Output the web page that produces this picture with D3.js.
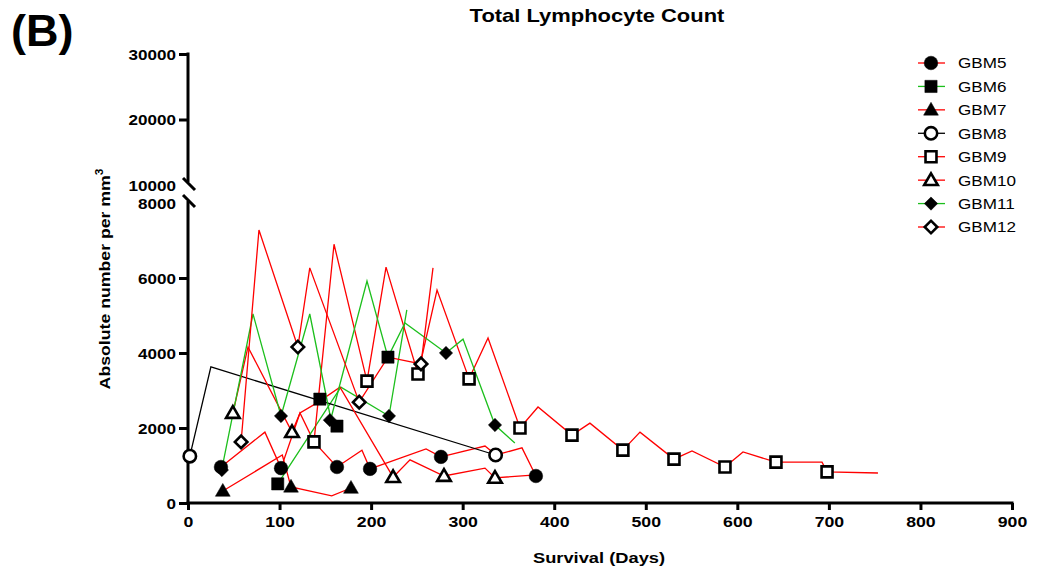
<!DOCTYPE html>
<html><head><meta charset="utf-8">
<script src="https://cdn.jsdelivr.net/npm/d3@7"></script>
<style>body{margin:0;background:#fff}svg{display:block}text{font-family:"Liberation Sans",Arial,sans-serif}</style>
</head><body><svg id="c" width="1043" height="573"></svg>
<script>
// ---- data (day, absolute count per mm3) ----
const seriesNames = ["GBM5","GBM6","GBM7","GBM8","GBM9","GBM10","GBM11","GBM12"];
const lineColors = ["#ff0000","#1cbf1c","#ff0000","#000000","#ff0000","#ff0000","#1cbf1c","#ff0000"];
const symbolKinds = ["circleF","squareF","triangleF","circleO","squareO","triangleO","diamondF","diamondO"];

const gbm5Line = [[36,960],[84,1890],[101.6,930],[122.3,2400],[137.6,1630],[162.7,960],[190,1410],[198.8,910],[260,1440],[276.3,1230],[324.4,1520],[336.4,1280],[364.8,1470],[380,720]];
const gbm5Pts  = [[36,960],[101.6,930],[162.7,960],[198.8,910],[276.3,1230],[380,720]];
const gbm6Line = [[98,510],[167,3090],[219.5,2320],[239,5150]];
const gbm6Pts  = [[98,510],[144,2770],[162.7,2050],[218.4,3890]];
const gbm7Line = [[38,320],[103,1280],[112.5,430],[157,190],[178,400]];
const gbm7Pts  = [[38,320],[112.5,430],[178,400]];
const gbm8Line = [[2,1250],[25,3630],[336,1280]];
const gbm8Pts  = [[2,1250],[336,1280]];
const gbm9Line = [[137.6,1630],[159.5,6900],[195.5,3250],[216.3,6290],[251.2,3440],[272,5680],[307,3310],[327.7,4400],[362.6,2000],[382.3,2560],[419.4,1810],[439,2130],[475,1410],[493.7,1890],[530.8,1170],[550.5,1390],[586.5,960],[606.2,1360],[642.2,1090],[692.5,1090],[698,830],[753.6,800]];
const gbm9Pts  = [[137.6,1630],[195.5,3250],[251.2,3440],[307,3310],[362.6,2000],[419.4,1810],[475,1410],[530.8,1170],[586.5,960],[642.2,1090],[698,830]];
const gbm10Line = [[49,2400],[65.5,4160],[113.6,1890],[122.3,2400],[141,2670],[166,3090],[224,690],[242.5,1150],[279.6,720],[324.4,930],[335.3,670],[380,750]];
const gbm10Pts  = [[49,2400],[113.6,1890],[224,690],[279.6,720],[335.3,670]];
const gbm11Line = [[37,910],[71,5040],[101.6,2320],[133,5040],[156,2240],[195.5,5920],[218.4,3890],[237,4800],[281.8,4000],[300.4,4370],[335.3,2080],[357,1600]];
const gbm11Pts  = [[37,880],[101.6,2320],[155,2210],[219.5,2320],[281.8,4000],[335.3,2080]];
const gbm12Line = [[58,1630],[77.5,7280],[120,4160],[133,6270],[187,2690],[218.4,3890],[254.5,3710],[267.6,6270]];
const gbm12Pts  = [[58,1630],[120,4160],[187,2690],[254.5,3710]];

const allLines = [gbm5Line,gbm6Line,gbm7Line,gbm8Line,gbm9Line,gbm10Line,gbm11Line,gbm12Line];
const allPts   = [gbm5Pts,gbm6Pts,gbm7Pts,gbm8Pts,gbm9Pts,gbm10Pts,gbm11Pts,gbm12Pts];

const xTicks = [0,100,200,300,400,500,600,700,800,900];
const yLowTicks = [0,2000,4000,6000,8000];
const yHighTicks = [10000,20000,30000];

// ---- layout ----
const svg = d3.select("#c");
const SX = 1.22; // horizontal text stretch of the reference
const x = d3.scaleLinear().domain([0,900]).range([188,1012]);
const yLow = d3.scaleLinear().domain([0,8000]).range([503,203]);
const yHigh = d3.scaleLinear().domain([10000,30000]).range([185,54]);

function stretchText(sel, dx, dy, k){
  sel.attr("x",0).attr("y",0).attr("transform",`translate(${dx},${dy}) scale(${k},1)`);
}

// x axis
const gx = svg.append("g").attr("transform","translate(0,503)")
  .call(d3.axisBottom(x).tickValues(xTicks).tickSize(7).tickSizeOuter(0).tickFormat(d3.format("d")));
gx.select(".domain").attr("stroke","#000").attr("stroke-width",3).attr("d","M186.5,0H1013.5");
gx.selectAll(".tick line").attr("stroke-width",3);
gx.selectAll(".tick text").attr("font-size",14.5).attr("font-weight","bold").attr("fill","#000")
  .each(function(){ d3.select(this).attr("dy","0.71em"); stretchText(d3.select(this),0,14,SX); });

// y axis low
const gyl = svg.append("g").attr("transform","translate(188,0)")
  .call(d3.axisLeft(yLow).tickValues(yLowTicks).tickSize(9).tickSizeOuter(0).tickFormat(d3.format("d")));
gyl.select(".domain").attr("stroke-width",3).attr("d","M0,504.5V201");
gyl.selectAll(".tick line").attr("stroke-width",3).filter(d=>d===8000).remove();
gyl.selectAll(".tick text").attr("font-size",14).attr("font-weight","bold").attr("fill","#000")
  .each(function(){ stretchText(d3.select(this),-12,0,SX); d3.select(this).attr("dy","0.36em"); });

// y axis high
const gyh = svg.append("g").attr("transform","translate(188,0)")
  .call(d3.axisLeft(yHigh).tickValues(yHighTicks).tickSize(9).tickSizeOuter(0).tickFormat(d3.format("d")));
gyh.select(".domain").attr("stroke-width",3).attr("d","M0,182V52.5");
gyh.selectAll(".tick line").attr("stroke-width",3).filter(d=>d===10000).remove();
gyh.selectAll(".tick text").attr("font-size",14).attr("font-weight","bold").attr("fill","#000")
  .each(function(){ stretchText(d3.select(this),-12,0,SX); d3.select(this).attr("dy","0.36em"); });

// axis break slashes
const brk = svg.append("g").attr("stroke","#000").attr("stroke-width",3);
brk.append("line").attr("x1",183).attr("y1",178).attr("x2",195).attr("y2",190);
brk.append("line").attr("x1",183).attr("y1",195).attr("x2",195).attr("y2",207);

// lines
const lineGen = d3.line().x(d=>x(d[0])).y(d=>yLow(d[1]));
svg.append("g").selectAll("path").data(allLines).join("path")
  .attr("d",lineGen).attr("fill","none")
  .attr("stroke",(d,i)=>lineColors[i]).attr("stroke-width",1.3).attr("stroke-linejoin","miter");

// markers
function drawMarker(g, kind){
  const filled = kind.endsWith("F");
  const k = kind.slice(0,-1);
  let p;
  if(k==="circle"){ p = g.append("circle").attr("r", filled?6.8:6.2); }
  else if(k==="square"){ p = g.append("path").attr("d", d3.symbol(d3.symbolSquare, filled?150:120)()); }
  else if(k==="triangle"){ p = g.append("path").attr("d", d3.symbol(d3.symbolTriangle, filled?95:80)()).attr("transform","translate(0,1)"); }
  else { p = g.append("path").attr("d", d3.symbol(d3.symbolSquare, filled?88:78)()).attr("transform","rotate(45)"); }
  if(filled){ p.attr("fill","#000").attr("stroke","#000").attr("stroke-width",0.5); }
  else { p.attr("fill","#fff").attr("stroke","#000").attr("stroke-width",2.6); }
}
allPts.forEach((pts,i)=>{
  svg.append("g").selectAll("g").data(pts).join("g")
    .attr("transform",d=>`translate(${x(d[0])},${yLow(d[1])})`)
    .each(function(){ drawMarker(d3.select(this), symbolKinds[i]); });
});

// legend
const legY = d3.scaleLinear().domain([0,7]).range([63,227]);
seriesNames.forEach((name,i)=>{
  const g = svg.append("g").attr("transform",`translate(931,${legY(i)})`);
  g.append("line").attr("x1",-13).attr("x2",14).attr("stroke",lineColors[i]).attr("stroke-width",1.3);
  drawMarker(g, symbolKinds[i]);
  const t = g.append("text").text(name).attr("font-size",15).attr("fill","#000").attr("dy","0.36em");
  stretchText(t,27,0,1.14); t.attr("dy","0.36em");
});

// titles
const title = svg.append("text").text("Total Lymphocyte Count").attr("font-size",18).attr("font-weight","bold").attr("text-anchor","middle");
stretchText(title,597,22,SX);
const xl = svg.append("text").text("Survival (Days)").attr("font-size",15).attr("font-weight","bold").attr("text-anchor","middle");
stretchText(xl,599,563,SX);
const yl = svg.append("text").attr("font-size",15).attr("font-weight","bold").attr("text-anchor","middle")
  .attr("transform",`translate(110,279) rotate(-90) scale(1.18,1)`);
yl.append("tspan").text("Absolute number per mm");
yl.append("tspan").text("3").attr("font-size",10).attr("dy",-7);
svg.append("text").text("(B)").attr("font-family","Lato, 'Open Sans', sans-serif").attr("font-weight","bold")
  .attr("font-size",45).attr("x",11).attr("y",46);
</script></body></html>
